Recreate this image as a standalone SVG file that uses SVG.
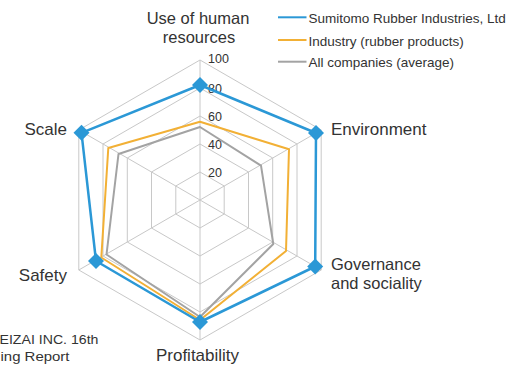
<svg xmlns="http://www.w3.org/2000/svg" width="506" height="367" viewBox="0 0 506 367">
<style>
.grid{fill:none;stroke:#c8c8c8;stroke-width:1}
.lbl{font-family:"Liberation Sans",Arial,sans-serif;font-size:17px;fill:#333}
.lbl2{font-family:"Liberation Sans",Arial,sans-serif;font-size:16.5px;fill:#333}
.tick{font-family:"Liberation Sans",Arial,sans-serif;font-size:12.5px;fill:#333}
.leg{font-family:"Liberation Sans",Arial,sans-serif;font-size:13.5px;fill:#333}
.src{font-family:"Liberation Sans",Arial,sans-serif;font-size:13px;fill:#333}
.s-blue{fill:none;stroke:#2b98d6;stroke-width:2.5;stroke-linejoin:round}
.s-orange{fill:none;stroke:#f2b035;stroke-width:2;stroke-linejoin:round}
.s-gray{fill:none;stroke:#a3a3a3;stroke-width:2;stroke-linejoin:round}
.mk{fill:#2b98d6}
</style>
<defs>
<path id="dia" d="M0,-8 L8,0 L0,8 L-8,0 Z"/>
</defs>
<rect width="506" height="367" fill="#fff"/>
<g id="grid">
<polygon class="grid" points="200,172 224.2,186 224.2,214 200,228 175.8,214 175.8,186"/>
<polygon class="grid" points="200,144 248.5,172 248.5,228 200,256 151.5,228 151.5,172"/>
<polygon class="grid" points="200,116 272.7,158 272.7,242 200,284 127.3,242 127.3,158"/>
<polygon class="grid" points="200,88 297,144 297,256 200,312 103,256 103,144"/>
<polygon class="grid" points="200,60 321.2,130 321.2,270 200,340 78.8,270 78.8,130"/>
<path class="grid" d="M200,200 L200,60 M200,200 L321.2,130 M200,200 L321.2,270 M200,200 L200,340 M200,200 L78.8,270 M200,200 L78.8,130"/>
</g>
<g id="ticks">
<text class="tick" x="208" y="63">100</text>
<text class="tick" x="208" y="92.5">80</text>
<text class="tick" x="208" y="120.5">60</text>
<text class="tick" x="208" y="148.5">40</text>
<text class="tick" x="208" y="176.5">20</text>
</g>
<g id="connectors">
<polygon class="s-gray" points="200,127 261,165.7 273.3,244 200,317 106.5,254.5 118.5,154"/>
<polygon class="s-orange" points="200,121.7 289,149.3 286,251 200,320 101.3,257.5 108.3,148"/>
<polygon class="s-blue" points="200,85 316,133 315.2,266.5 200,322 96,261 81.5,132.8"/>
</g>
<g id="markers">
<use href="#dia" class="mk" x="200" y="85"/>
<use href="#dia" class="mk" x="316" y="133"/>
<use href="#dia" class="mk" x="315.2" y="266.5"/>
<use href="#dia" class="mk" x="200" y="322"/>
<use href="#dia" class="mk" x="96" y="261"/>
<use href="#dia" class="mk" x="81.5" y="132.8"/>
</g>
<g id="node-human">
<text class="lbl2" x="198" y="24" text-anchor="middle">Use of human</text>
<text class="lbl2" x="199" y="42.5" text-anchor="middle">resources</text>
</g>
<g id="node-environment"><text class="lbl" x="331" y="135">Environment</text></g>
<g id="node-governance">
<text class="lbl2" x="331" y="270">Governance</text>
<text class="lbl2" x="331" y="288.5">and sociality</text>
</g>
<g id="node-profitability"><text class="lbl" x="197.5" y="360.5" text-anchor="middle">Profitability</text></g>
<g id="node-safety"><text class="lbl" x="67" y="281" text-anchor="end">Safety</text></g>
<g id="node-scale"><text class="lbl" x="67" y="135" text-anchor="end">Scale</text></g>
<g id="legend">
<line x1="278" y1="17.3" x2="306.5" y2="17.3" stroke="#2b98d6" stroke-width="2"/>
<line x1="278" y1="40" x2="306.5" y2="40" stroke="#f2b035" stroke-width="2"/>
<line x1="278" y1="61.7" x2="306.5" y2="61.7" stroke="#a3a3a3" stroke-width="2"/>
<text class="leg" x="308.5" y="23">Sumitomo Rubber Industries, Ltd</text>
<text class="leg" x="308.5" y="45.5">Industry (rubber products)</text>
<text class="leg" x="308.5" y="67">All companies (average)</text>
</g>
<g id="source">
<text class="src" x="-0.5" y="344" textLength="99" lengthAdjust="spacingAndGlyphs">EIZAI INC. 16th</text>
<text class="src" x="0.5" y="360.5" textLength="69" lengthAdjust="spacingAndGlyphs">ing Report</text>
</g>
</svg>
